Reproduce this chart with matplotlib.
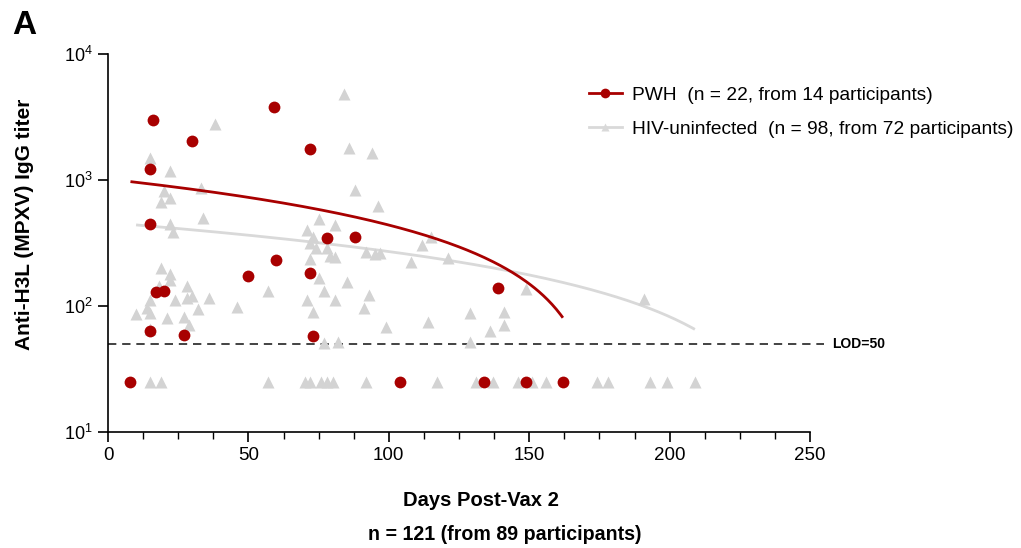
import numpy as np
import matplotlib
matplotlib.use("Agg")
import matplotlib.pyplot as plt
from matplotlib.lines import Line2D
from matplotlib.ticker import FixedLocator, NullLocator, LogFormatterSciNotation

plt.rcParams['font.family'] = ['Liberation Sans', 'DejaVu Sans']

# ---------------- data ----------------
pwh_days = [8, 15, 16, 15, 15, 17, 20, 27, 30, 50, 59, 60, 72, 72, 73, 78, 88,
            104, 134, 139, 149, 162]
pwh_titer = [25, 1216, 2990, 450, 63, 130, 132, 59, 2040, 174, 3775, 232, 1762,
             182, 58, 344, 355, 25, 25, 138, 25, 25]

neg_days = [38, 15, 22, 33, 20, 22, 19, 34, 22, 23,
            84, 86, 94, 88, 96, 75, 81, 71, 73, 115,
            19, 22, 22, 28, 15, 24, 28, 30, 36, 14,
            10, 15, 21, 27, 32, 29, 46, 57, 15, 18,
            15, 19, 57,
            72, 74, 79, 81, 72, 92, 95, 97, 112, 108,
            121, 75, 85, 77, 71, 81, 93, 91, 73, 99,
            114, 129, 77, 82, 129, 136,
            70, 72, 76, 78, 80, 92, 117, 131,
            149, 141, 141, 191,
            137, 146, 151, 156, 174, 178, 193, 199, 209,
            78]
neg_titer = [2780, 1503, 1178, 869, 822, 724, 665, 502, 449, 385,
             4786, 1803, 1648, 834, 622, 489, 436, 399, 350, 356,
             199, 178, 162, 143, 112, 112, 115, 119, 115, 96,
             86, 88, 80, 82, 94, 71, 98, 131, 66, 144,
             25, 25, 25,
             315, 287, 251, 243, 238, 268, 259, 262, 305, 222,
             239, 168, 155, 131, 111, 112, 122, 96, 89, 68,
             74, 88, 51, 52, 52, 63,
             25, 25, 25, 25, 25, 25, 25, 25,
             136, 90, 71, 113,
             25, 25, 25, 25, 25, 25, 25, 25, 25,
             287]

# linear fits (titer = intercept + slope * day), shown on log axis
pwh_fit = dict(intercept=1017.0, slope=-5.78, start=8, end=162)
neg_fit = dict(intercept=458.8, slope=-1.883, start=10, end=209)

lod = 50
x_ticks = [0, 50, 100, 150, 200, 250]
y_ticks = [10, 100, 1000, 10000]

red = '#A80000'
tri_gray = '#D3D3D3'
line_gray = '#D9D9D9'

# ---------------- figure ----------------
W, H = 1021, 548
fig = plt.figure(figsize=(W / 100, H / 100), dpi=100)
ax = fig.add_axes([108 / W, 1 - 432 / H, 702 / W, 378 / H])

ax.set_yscale('log')
ax.set_xlim(0, 250)
ax.set_ylim(10, 10000)

# scatter
ax.plot(neg_days, neg_titer, linestyle='none', marker='^', ms=8.5,
        color=tri_gray, mec='none', zorder=3, clip_on=False)

# fits
for fit, col, z in [(neg_fit, line_gray, 2.5), (pwh_fit, red, 4)]:
    xs = np.linspace(fit['start'], fit['end'], 200)
    ys = fit['intercept'] + fit['slope'] * xs
    ax.plot(xs, ys, color=col, lw=2.0, zorder=z, solid_capstyle='butt')

ax.plot(pwh_days, pwh_titer, linestyle='none', marker='o', ms=8.5,
        color=red, mec='none', zorder=5, clip_on=False)

# LOD
ax.plot([0, 255], [lod, lod], color='#222222', lw=1.2, ls=(0, (5, 3.5)),
        zorder=2, clip_on=False)
ax.text(258, lod, 'LOD=50', fontsize=10, fontweight='bold', va='center',
        ha='left', clip_on=False)

# axes styling
for s in ['top', 'right']:
    ax.spines[s].set_visible(False)
for s in ['left', 'bottom']:
    ax.spines[s].set_linewidth(1.2)
ax.xaxis.set_major_locator(FixedLocator(x_ticks))
ax.xaxis.set_minor_locator(FixedLocator(np.arange(0, 250.1, 12.5)))
ax.yaxis.set_major_locator(FixedLocator(y_ticks))
ax.yaxis.set_minor_locator(NullLocator())
ax.yaxis.set_major_formatter(LogFormatterSciNotation())
ax.tick_params(axis='x', which='major', length=7, width=1.2,
               labelsize=13.5, direction='out', pad=4)
ax.tick_params(axis='y', which='major', length=7, width=1.2,
               labelsize=13, direction='out', pad=4)
ax.tick_params(axis='x', which='minor', length=5, width=1.0, direction='out')

fig.text(481 / W, 1 - 500 / H, 'Days Post-Vax 2', fontsize=14.5,
         fontweight='bold', ha='center', va='center')
fig.text(505 / W, 1 - 534 / H, 'n = 121 (from 89 participants)', fontsize=14.1,
         fontweight='bold', ha='center', va='center')
fig.text(25 / W, 1 - 224 / H, 'Anti-H3L (MPXV) IgG titer', fontsize=15,
         fontweight='bold', ha='center', va='center', rotation=90)

fig.text(12 / W, 1 - 25 / H, 'A', fontsize=24, fontweight='bold',
         va='center', ha='left')

handles = [
    Line2D([], [], color=red, lw=2, marker='o', ms=7, mec='none'),
    Line2D([], [], color=line_gray, lw=2, marker='^', ms=6, mec='none'),
]
labels = ['PWH  (n = 22, from 14 participants)',
          'HIV-uninfected  (n = 98, from 72 participants)']
fig.legend(handles, labels, loc='upper left',
           bbox_to_anchor=(581 / W, 1 - 79 / H), frameon=False,
           fontsize=13.8, handlelength=1.75, handletextpad=0.5,
           labelspacing=0.85, borderaxespad=0)

fig.savefig('out.png', dpi=100)
